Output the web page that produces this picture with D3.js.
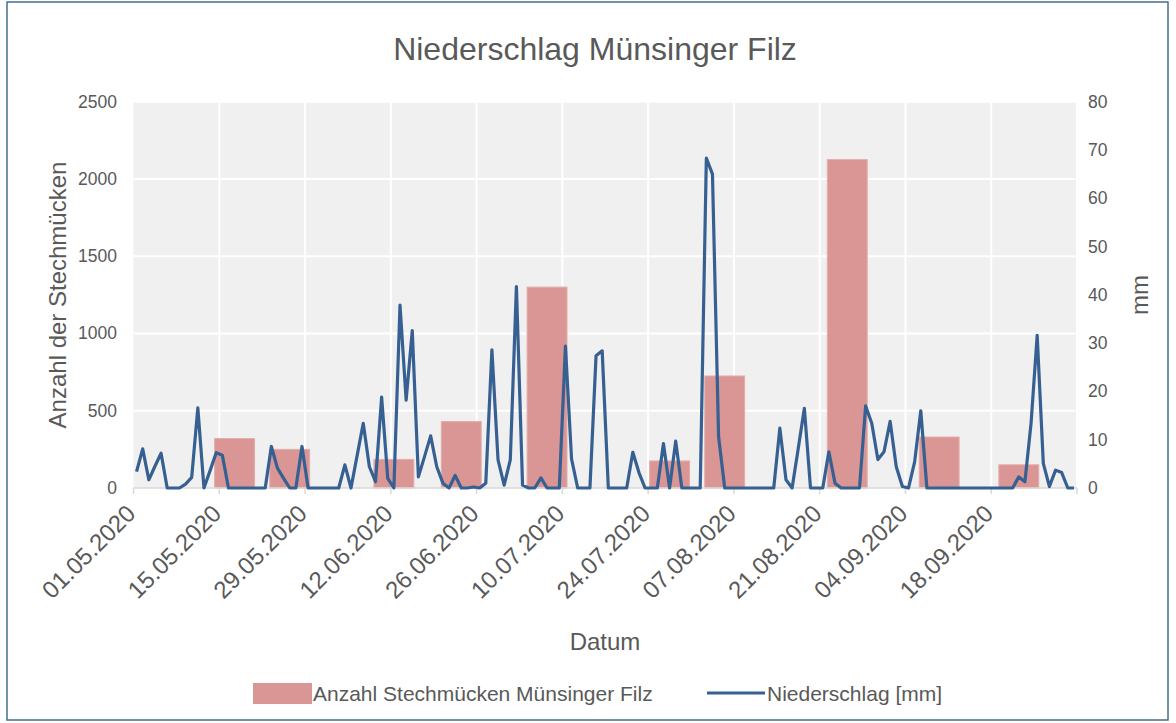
<!DOCTYPE html>
<html>
<head>
<meta charset="utf-8">
<script src="https://cdn.jsdelivr.net/npm/d3@7"></script>
<style>
  body { margin: 0; background: #fff; }
  text { font-family: "Liberation Sans", Arial, sans-serif; fill: #595959; }
</style>
</head>
<body>
<div id="chart"></div>
<script>
var W = 1176, H = 723;
var plot = {left: 133.5, right: 1077, top: 101.7, bottom: 488};

// daily precipitation [mm], 01.05.2020 - 01.10.2020
var startDate = "01.05.2020";
var precipitation = [
  3.4, 8.1, 1.7, 4.5, 7.2, 0, 0, 0, 0.8, 2.2,
  16.6, 0, 3.6, 7.3, 6.8, 0, 0, 0, 0, 0,
  0, 0, 8.6, 4.1, 2.0, 0, 0, 8.6, 0, 0,
  0, 0, 0, 0, 4.8, 0, 6.7, 13.4, 4.4, 1.3,
  18.8, 2.0, 0, 37.9, 18.2, 32.6, 2.3, 6.5, 10.8, 4.4,
  1.0, 0, 2.6, 0, 0, 0.2, 0, 1.0, 28.6, 5.8,
  0.6, 5.8, 41.7, 0.6, 0, 0, 2.1, 0, 0, 0,
  29.4, 6.0, 0, 0, 0, 27.4, 28.4, 0, 0, 0,
  0, 7.4, 3.2, 0, 0, 0, 9.2, 0, 9.7, 0,
  0, 0, 0, 68.3, 65.0, 10.6, 0, 0, 0, 0,
  0, 0, 0, 0, 0, 12.4, 1.7, 0, 8.2, 16.5,
  0, 0, 0, 7.5, 1.0, 0, 0, 0, 0, 17.0,
  13.4, 5.9, 7.5, 13.8, 4.4, 0.3, 0, 5.4, 16.0, 0,
  0, 0, 0, 0, 0, 0, 0, 0, 0, 0,
  0, 0, 0, 0, 2.3, 1.3, 13.4, 31.6, 5.1, 0.3,
  3.7, 3.2, 0, 0
];

// mosquito catches
var catchDates = ["17.05.2020", "26.05.2020", "12.06.2020", "23.06.2020", "07.07.2020",
                  "27.07.2020", "05.08.2020", "25.08.2020", "09.09.2020", "22.09.2020"];
var catchCounts = [320, 250, 185, 430, 1300, 175, 725, 2125, 330, 150];

var tickLabels = ["01.05.2020", "15.05.2020", "29.05.2020", "12.06.2020", "26.06.2020",
                  "10.07.2020", "24.07.2020", "07.08.2020", "21.08.2020", "04.09.2020", "18.09.2020"];
var axisEnd = "02.10.2020";
var leftTicks = [0, 500, 1000, 1500, 2000, 2500];
var rightTicks = [0, 10, 20, 30, 40, 50, 60, 70, 80];

var parse = d3.utcParse("%d.%m.%Y");
var t0 = parse(startDate);

var x = d3.scaleUtc().domain([t0, parse(axisEnd)]).range([plot.left, plot.right]);
var yL = d3.scaleLinear().domain([0, 2500]).range([plot.bottom, plot.top]);
var yR = d3.scaleLinear().domain([0, 80]).range([plot.bottom, plot.top]);

// middle of a day slot
function mid(d) { return x(d3.utcHour.offset(d, 12)); }

var svg = d3.select("#chart").append("svg")
    .attr("width", W).attr("height", H);

svg.append("rect")
    .attr("x", 7).attr("y", 2).attr("width", 1161).attr("height", 718)
    .attr("fill", "#fff").attr("stroke", "#41708a").attr("stroke-width", 1.5);

svg.append("text")
    .attr("x", 595).attr("y", 60)
    .attr("text-anchor", "middle")
    .attr("font-size", 32)
    .text("Niederschlag Münsinger Filz");

// plot background
svg.append("rect")
    .attr("x", plot.left).attr("y", plot.top)
    .attr("width", plot.right - plot.left).attr("height", plot.bottom - plot.top)
    .attr("fill", "#f0f0f0");

var tickDates = tickLabels.map(parse);

// gridlines
svg.selectAll(".vgrid").data(tickDates.slice(1).concat([parse(axisEnd)])).enter()
  .append("line")
    .attr("x1", function(d) { return x(d); })
    .attr("x2", function(d) { return x(d); })
    .attr("y1", plot.top).attr("y2", plot.bottom)
    .attr("stroke", "#fff").attr("stroke-width", 2);

svg.selectAll(".hgrid").data(leftTicks.slice(1)).enter()
  .append("line")
    .attr("x1", plot.left).attr("x2", plot.right)
    .attr("y1", function(d) { return yL(d); })
    .attr("y2", function(d) { return yL(d); })
    .attr("stroke", "#fff").attr("stroke-width", 2);

// bars
var barW = x(parse("08.05.2020")) - x(parse("01.05.2020")) - 3;
svg.selectAll(".bar").data(catchDates).enter()
  .append("rect")
    .attr("x", function(d) { return mid(parse(d)) - barW / 2; })
    .attr("y", function(d, i) { return yL(catchCounts[i]); })
    .attr("width", barW)
    .attr("height", function(d, i) { return plot.bottom - yL(catchCounts[i]); })
    .attr("fill", "#d99694")
    .attr("stroke", "#e3acab").attr("stroke-width", 1);

// x axis line + ticks
svg.append("line")
    .attr("x1", plot.left).attr("x2", plot.right)
    .attr("y1", plot.bottom).attr("y2", plot.bottom)
    .attr("stroke", "#d9d9d9").attr("stroke-width", 1.5);

svg.selectAll(".xtick").data(tickDates.concat([parse(axisEnd)])).enter()
  .append("line")
    .attr("x1", function(d) { return x(d); })
    .attr("x2", function(d) { return x(d); })
    .attr("y1", plot.bottom).attr("y2", plot.bottom + 6)
    .attr("stroke", "#d9d9d9").attr("stroke-width", 1.5);

// precipitation line
var line = d3.line()
    .x(function(d, i) { return mid(d3.utcDay.offset(t0, i)); })
    .y(function(d) { return yR(d); });

svg.append("path")
    .datum(precipitation)
    .attr("fill", "none")
    .attr("stroke", "#376092")
    .attr("stroke-width", 3.2)
    .attr("stroke-linejoin", "round")
    .attr("d", line);

// axes labels
svg.selectAll(".ylab").data(leftTicks).enter()
  .append("text")
    .attr("x", 117).attr("y", function(d) { return yL(d) + 6; })
    .attr("text-anchor", "end").attr("font-size", 17.5)
    .text(function(d) { return d; });

svg.selectAll(".yrlab").data(rightTicks).enter()
  .append("text")
    .attr("x", 1088).attr("y", function(d) { return yR(d) + 6; })
    .attr("text-anchor", "start").attr("font-size", 17.5)
    .text(function(d) { return d; });

svg.selectAll(".xlab").data(tickLabels).enter()
  .append("text")
    .attr("transform", function(d) {
      return "translate(" + (x(parse(d)) + 3.5) + "," + (plot.bottom + 27) + ") rotate(-45)";
    })
    .attr("text-anchor", "end").attr("font-size", 24)
    .text(function(d) { return d; });

svg.append("text")
    .attr("transform", "translate(66,295) rotate(-90)")
    .attr("text-anchor", "middle").attr("font-size", 24)
    .text("Anzahl der Stechmücken");

svg.append("text")
    .attr("transform", "translate(1148,295) rotate(-90)")
    .attr("text-anchor", "middle").attr("font-size", 24)
    .text("mm");

svg.append("text")
    .attr("x", 605).attr("y", 650)
    .attr("text-anchor", "middle").attr("font-size", 24)
    .text("Datum");

// legend
svg.append("rect")
    .attr("x", 253).attr("y", 683).attr("width", 59).attr("height", 21)
    .attr("fill", "#d99694");
svg.append("text")
    .attr("x", 313).attr("y", 701).attr("font-size", 21)
    .text("Anzahl Stechmücken Münsinger Filz");
svg.append("line")
    .attr("x1", 707).attr("x2", 765).attr("y1", 693).attr("y2", 693)
    .attr("stroke", "#376092").attr("stroke-width", 3);
svg.append("text")
    .attr("x", 767).attr("y", 701).attr("font-size", 21)
    .text("Niederschlag [mm]");
</script>
</body>
</html>
